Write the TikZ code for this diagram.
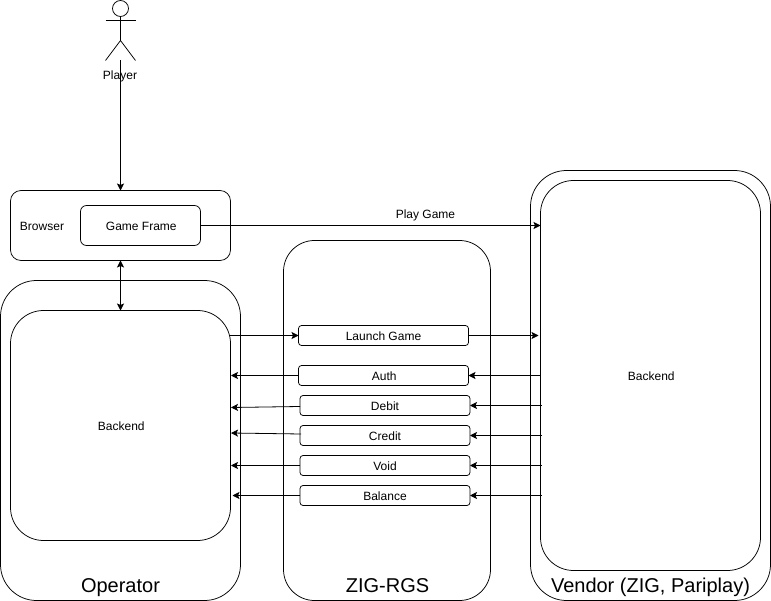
\documentclass[tikz,border=0pt]{standalone}
\usepackage{fontspec}
\setmainfont{Liberation Sans}
\usetikzlibrary{arrows.meta}
\tikzset{
  box/.style={draw=black,line width=0.75pt,inner sep=0pt,outer sep=0pt,anchor=north west,align=center,text height=12pt,text depth=2pt,font=\fontsize{12}{14}\selectfont},
  nudge/.style={execute at begin node=\kern1.6pt},
  conn/.style={draw=black,line width=0.8pt,-{Stealth[length=7pt,width=7pt,inset=1.5pt]}},
  biconn/.style={draw=black,line width=0.8pt,{Stealth[length=7pt,width=7pt,inset=1.5pt]}-{Stealth[length=7pt,width=7pt,inset=1.5pt]}},
  lbl/.style={inner sep=0pt,font=\fontsize{12}{14}\selectfont},
  big/.style={inner sep=0pt,anchor=base,font=\fontsize{20}{24}\selectfont},
  op/.style={box,rounded corners=3pt,minimum width=170pt,minimum height=20pt}
}
\begin{document}
\begin{tikzpicture}[x=1pt,y=-1pt]
\useasboundingbox (0,0) rectangle (771,601);
% containers
\node[box,rounded corners=36pt,minimum width=240pt,minimum height=320pt] (operator) at (0.5,280.5) {};
\node[box,nudge,rounded corners=33pt,minimum width=220pt,minimum height=230pt] (opback) at (10.5,310.5) {Backend};
\node[box,rounded corners=10.5pt,minimum width=220pt,minimum height=70pt] (browser) at (10.5,190.5) {};
\node[box,nudge,rounded corners=6pt,minimum width=120pt,minimum height=40pt] (frame) at (80.5,205.5) {Game Frame};
\node[box,rounded corners=31pt,minimum width=207pt,minimum height=360pt] (rgs) at (283.5,240.5) {};
\node[box,rounded corners=36pt,minimum width=240pt,minimum height=430pt] (vendor) at (530.5,170.5) {};
\node[box,nudge,rounded corners=33pt,minimum width=220pt,minimum height=390pt] (vback) at (540.5,180.5) {Backend};
% operations
\node[op] (launch) at (298.5,325.5) {Launch Game};
\node[op,nudge] (auth) at (298.5,365.5) {Auth};
\node[op] (debit) at (300,395.5) {Debit};
\node[op] (credit) at (300,425.5) {Credit};
\node[op] (void) at (300,455.5) {Void};
\node[op] (balance) at (300,485.5) {Balance};
% labels
\node[lbl] (browserlbl) at (42,226) {Browser};
\node[lbl] (playgame) at (425.5,215.4) {Play Game};
\node[lbl] (playerlbl) at (120,76.4) {Player};
\node[big] (oplbl) at (120.5,592.5) {Operator};
\node[big] (rgslbl) at (387.5,592.5) {ZIG-RGS};
\node[big] (vlbl) at (650.5,592.5) {Vendor (ZIG, Pariplay)};
% actor
\node[draw=black,line width=0.75pt,circle,inner sep=0pt,minimum size=16pt,outer sep=0pt] (head) at (120.5,8.5) {};
\coordinate (hip) at (120.5,40.5);
\coordinate (feet) at (120.5,60.5);
\draw[line width=0.75pt] (head.south) -- (hip);
\draw[line width=0.75pt] (105.5,20.5) -- (135.5,20.5);
\draw[line width=0.75pt] (105.5,60.5) -- (hip) -- (135.5,60.5);
% connectors
\draw[conn] (feet) -- (browser.north);
\draw[biconn] (browser.south) -- (120.5,310.5);
\draw[conn] (frame.east) -- (vback.west |- frame.east);
\coordinate (opl) at (229,335.5);
\coordinate (vl) at (538.5,335.5);
\draw[conn] (opl) -- (launch.west);
\draw[conn] (launch.east) -- (vl);
\coordinate (a1) at (231,375.5);
\coordinate (d1) at (231,407.5);
\coordinate (c1) at (231,433);
\coordinate (v1) at (231,465.5);
\coordinate (b1) at (232.5,495.5);
\draw[conn] (auth.west) -- (a1);
\draw[conn] (debit.west) ++(0,1) -- (d1);
\draw[conn] (301,434) -- (c1);
\draw[conn] (void.west) -- (v1);
\draw[conn] (balance.west) -- (b1);
\coordinate (a2) at (540.5,375.5);
\coordinate (d2) at (541.5,405.5);
\coordinate (c2) at (541.5,435.5);
\coordinate (v2) at (541.5,465.5);
\coordinate (b2) at (541.5,495.5);
\draw[conn] (a2) -- (auth.east);
\draw[conn] (d2) -- (debit.east);
\draw[conn] (c2) -- (credit.east);
\draw[conn] (v2) -- (void.east);
\draw[conn] (b2) -- (balance.east);
\end{tikzpicture}
\end{document}
